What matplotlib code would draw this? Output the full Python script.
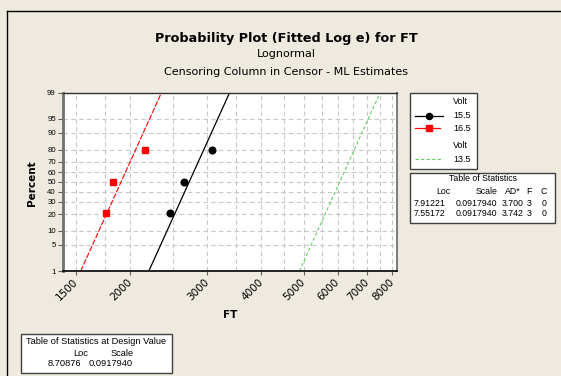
import numpy as np
import matplotlib
matplotlib.use("Agg")
import matplotlib.pyplot as plt
from matplotlib.lines import Line2D
from matplotlib.patches import Rectangle
from statistics import NormalDist

# failure times (FT) at each voltage level, three failures each
volt_155 = [2467, 2661, 3086]
volt_165 = [1755, 1827, 2157]

# ML estimates (common scale) and design-value estimate
loc_155 = 7.91221
loc_165 = 7.55172
loc_135 = 8.70876
scale = 0.0917940
ad_155 = 3.700
ad_165 = 3.742

pct_ticks = [1, 5, 10, 20, 30, 40, 50, 60, 70, 80, 90, 95, 99]
x_ticks = [1500, 2000, 3000, 4000, 5000, 6000, 7000, 8000]
x_grid = [1500, 1750, 2000, 2500, 3000, 3500, 4000, 4500, 5000, 5500, 6000, 6500, 7000, 7500, 8000]

BG = '#EEEAE0'
W, H = 561, 376
SMALL = 'Liberation Sans'
nd = NormalDist()


def z(p):
    return nd.inv_cdf(p / 100.0)


def fx(x):
    return x / W


def fy(y):
    return 1 - y / H


def median_ranks(n):
    i = np.arange(1, n + 1)
    return (i - 0.3) / (n + 0.4) * 100


fig = plt.figure(figsize=(W / 100, H / 100), dpi=100, facecolor=BG)
ax = fig.add_axes([fx(62.7), fy(271), fx(397.3) - fx(62.7), fy(92.7) - fy(271)])
ax.set_facecolor('white')

ax.set_xscale('log')
ax.set_xlim(1398, 8211)
ax.set_ylim(z(1), z(99))

# grid
for g in x_grid:
    ax.axvline(g, color='#C8C8C8', lw=0.8, ls=(0, (4, 3)), zorder=0)
for p in pct_ticks[1:-1]:
    ax.axhline(z(p), color='#C8C8C8', lw=0.8, ls=(0, (4, 3)), zorder=0)

# fitted lines
zz = np.linspace(z(1), z(99), 50)
ax.plot(np.exp(loc_155 + scale * zz), zz, color='black', lw=0.9, zorder=2)
ax.plot(np.exp(loc_165 + scale * zz), zz, color='red', lw=0.8, ls=(0, (5, 1.5)), zorder=2)
ax.plot(np.exp(loc_135 + scale * zz), zz, color='#66CC66', lw=0.8, ls=(0, (3, 2)), zorder=2)

# data points
pp = [z(p) for p in median_ranks(3)]
ax.plot(volt_155, pp, 'o', color='black', ms=4.8, zorder=3)
ax.plot(volt_165, pp, 's', color='red', ms=5, zorder=3)

ax.xaxis.set_minor_locator(matplotlib.ticker.NullLocator())
ax.set_xticks(x_ticks)
ax.set_xticklabels([str(t) for t in x_ticks], rotation=45, ha='right', va='center',
                   rotation_mode='anchor', fontsize=7.5)
ax.set_yticks([z(p) for p in pct_ticks])
ax.set_yticklabels([str(p) for p in pct_ticks], fontsize=5.6, family=SMALL)
ax.yaxis.set_minor_locator(matplotlib.ticker.NullLocator())
ax.tick_params(axis='x', length=3, width=0.8, color='#606060', pad=3.5)
ax.tick_params(axis='y', length=3.5, width=0.8, color='#606060', pad=1.5)

ax.spines['left'].set_color('#707070')
ax.spines['left'].set_linewidth(2)
ax.spines['bottom'].set_color('black')
ax.spines['bottom'].set_linewidth(1.2)
ax.spines['top'].set_color('#303030')
ax.spines['top'].set_linewidth(1)
ax.spines['right'].set_color('#808080')
ax.spines['right'].set_linewidth(1.5)

fig.text(fx(230), fy(315), 'FT', fontsize=7.5, fontweight='bold', ha='center', va='center')
fig.text(fx(32), fy(183), 'Percent', fontsize=7.5, fontweight='bold', rotation=90,
         ha='center', va='center')

# titles
fig.text(fx(286), fy(38.3), 'Probability Plot (Fitted Log e) for FT', fontsize=9.2,
         fontweight='bold', ha='center', va='center')
fig.text(fx(286), fy(54.3), 'Lognormal', fontsize=8, ha='center', va='center')
fig.text(fx(286), fy(71.7), 'Censoring Column in Censor - ML Estimates', fontsize=8,
         ha='center', va='center')

# outer frame
fig.add_artist(Line2D([fx(7.3), 1], [fy(11), fy(11)], color='black', lw=1))
fig.add_artist(Line2D([fx(7.3), fx(7.3)], [fy(11), 0], color='black', lw=1))


def box(x0, y0, x1, y1):
    fig.add_artist(Rectangle((fx(x0), fy(y1)), fx(x1) - fx(x0), fy(y0) - fy(y1),
                             facecolor='white', edgecolor='#404040', lw=1))


def txt(x, y, s, ha='left', size=6.5):
    fig.text(fx(x), fy(y), s, fontsize=size, ha=ha, va='center', family=SMALL)


# legend
box(410, 93.3, 477.3, 169)
txt(453, 101.7, 'Volt')
fig.add_artist(Line2D([fx(415), fx(443)], [fy(116)] * 2, color='black', lw=0.9))
fig.add_artist(Line2D([fx(429.3)], [fy(116)], color='black', marker='o', ms=4.4))
txt(453, 116, '15.5')
fig.add_artist(Line2D([fx(415), fx(440)], [fy(128.3)] * 2, color='red', lw=0.9))
fig.add_artist(Line2D([fx(429.3)], [fy(128.3)], color='red', marker='s', ms=4.6))
txt(453, 128.3, '16.5')
txt(453, 146, 'Volt')
fig.add_artist(Line2D([fx(415), fx(443)], [fy(159)] * 2, color='#66CC66', lw=0.8,
                      ls=(0, (3, 2))))
txt(453, 159, '13.5')

# table of statistics
ts = 6.3
box(410, 172.7, 555.3, 223)
txt(482.7, 178.7, 'Table of Statistics', ha='center', size=ts)
txt(450, 191.7, 'Loc', ha='right', size=ts)
txt(497.7, 191.7, 'Scale', ha='right', size=ts)
txt(521, 191.7, 'AD*', ha='right', size=ts)
txt(532, 191.7, 'F', ha='right', size=ts)
txt(546.7, 191.7, 'C', ha='right', size=ts)
for yy, loc, ad in [(203, loc_155, ad_155), (213.7, loc_165, ad_165)]:
    txt(445, yy, f'{loc:.5f}', ha='right', size=ts)
    txt(497, yy, f'{scale:.7f}', ha='right', size=ts)
    txt(524, yy, f'{ad:.3f}', ha='right', size=ts)
    txt(531.7, yy, '3', ha='right', size=ts)
    txt(546.7, yy, '0', ha='right', size=ts)

# design value table
box(20.7, 333.5, 172, 372.5)
txt(96, 341, 'Table of Statistics at Design Value', ha='center', size=6.7)
txt(88, 353, 'Loc', ha='right', size=6.7)
txt(134, 353, 'Scale', ha='right', size=6.7)
txt(81, 363, f'{loc_135:.5f}', ha='right', size=6.7)
txt(133, 363, f'{scale:.7f}', ha='right', size=6.7)

fig.savefig('out.png', dpi=100, facecolor=BG)
